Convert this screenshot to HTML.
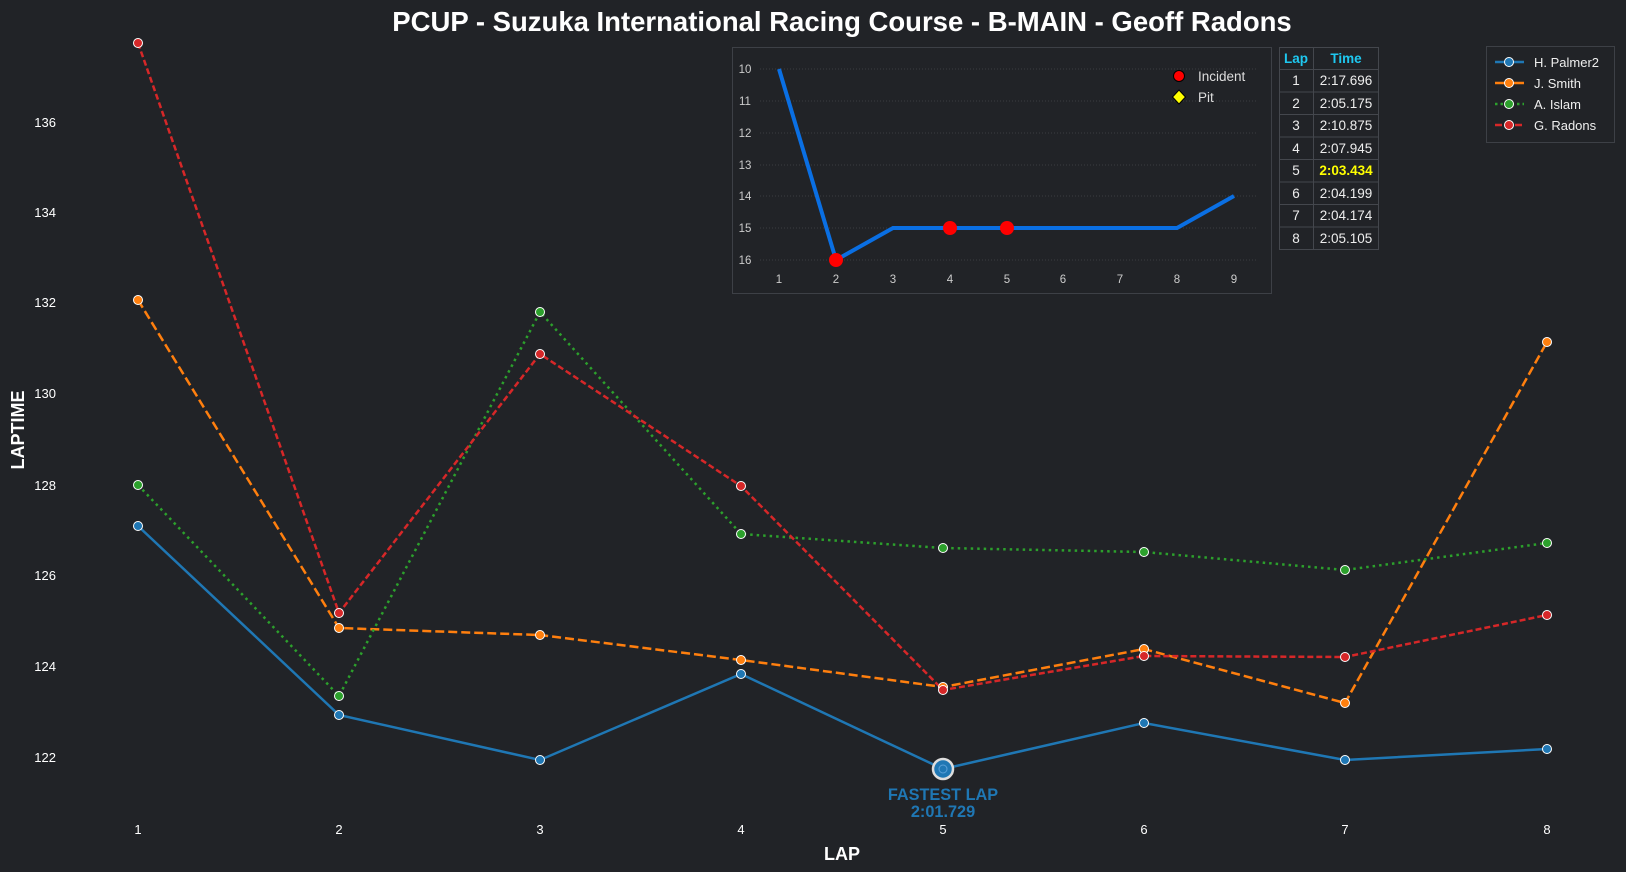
<!DOCTYPE html>
<html><head><meta charset="utf-8"><style>
html,body{margin:0;padding:0;background:#212327;}
svg{display:block;font-family:"Liberation Sans",sans-serif;}
</style></head><body>
<svg width="1626" height="872" viewBox="0 0 1626 872" xmlns="http://www.w3.org/2000/svg">
<rect width="1626" height="872" fill="#212327"/>
<text x="842" y="31" text-anchor="middle" font-size="27.5" font-weight="bold" fill="#fff">PCUP - Suzuka International Racing Course - B-MAIN - Geoff Radons</text>
<g font-size="13" fill="#fff" text-anchor="end">
<text x="56" y="127">136</text><text x="56" y="217">134</text><text x="56" y="307">132</text><text x="56" y="398">130</text><text x="56" y="490">128</text><text x="56" y="580">126</text><text x="56" y="671">124</text><text x="56" y="762">122</text>
</g>
<g font-size="13" fill="#fff" text-anchor="middle">
<text x="138" y="834">1</text><text x="339" y="834">2</text><text x="540" y="834">3</text><text x="741" y="834">4</text><text x="943" y="834">5</text><text x="1144" y="834">6</text><text x="1345" y="834">7</text><text x="1547" y="834">8</text>
</g>
<text x="842" y="860" text-anchor="middle" font-size="18" font-weight="bold" fill="#fff">LAP</text>
<text transform="translate(24,430) rotate(-90)" text-anchor="middle" font-size="18" font-weight="bold" fill="#fff">LAPTIME</text>
<g fill="none" stroke-width="2.5">
<polyline stroke="#1f77b4" points="138,526 339,715 540,760 741,674 943,769 1144,723 1345,760 1547,749"/>
<polyline stroke="#ff7f0e" stroke-dasharray="9,4" points="138,300 339,628 540,635 741,660 943,687 1144,649 1345,703 1547,342"/>
<polyline stroke="#2ca02c" stroke-dasharray="2.5,4" points="138,485 339,696 540,312 741,534 943,548 1144,552 1345,570 1547,543"/>
<polyline stroke="#d62728" stroke-dasharray="6,3" points="138,43 339,613 540,354 741,486 943,690 1144,656 1345,657 1547,615"/>
</g>
<g stroke="#fff" stroke-width="1">
<g fill="#1f77b4"><circle cx="138" cy="526" r="4.5"/><circle cx="339" cy="715" r="4.5"/><circle cx="540" cy="760" r="4.5"/><circle cx="741" cy="674" r="4.5"/><circle cx="1144" cy="723" r="4.5"/><circle cx="1345" cy="760" r="4.5"/><circle cx="1547" cy="749" r="4.5"/></g>
<g fill="#ff7f0e"><circle cx="138" cy="300" r="4.5"/><circle cx="339" cy="628" r="4.5"/><circle cx="540" cy="635" r="4.5"/><circle cx="741" cy="660" r="4.5"/><circle cx="943" cy="687" r="4.5"/><circle cx="1144" cy="649" r="4.5"/><circle cx="1345" cy="703" r="4.5"/><circle cx="1547" cy="342" r="4.5"/></g>
<g fill="#2ca02c"><circle cx="138" cy="485" r="4.5"/><circle cx="339" cy="696" r="4.5"/><circle cx="540" cy="312" r="4.5"/><circle cx="741" cy="534" r="4.5"/><circle cx="943" cy="548" r="4.5"/><circle cx="1144" cy="552" r="4.5"/><circle cx="1345" cy="570" r="4.5"/><circle cx="1547" cy="543" r="4.5"/></g>
<g fill="#d62728"><circle cx="138" cy="43" r="4.5"/><circle cx="339" cy="613" r="4.5"/><circle cx="540" cy="354" r="4.5"/><circle cx="741" cy="486" r="4.5"/><circle cx="943" cy="690" r="4.5"/><circle cx="1144" cy="656" r="4.5"/><circle cx="1345" cy="657" r="4.5"/><circle cx="1547" cy="615" r="4.5"/></g>
</g>
<circle cx="943" cy="769" r="10" fill="#1f77b4" stroke="#ddd" stroke-width="2.5"/>
<circle cx="943" cy="769" r="4" fill="none" stroke="#5aa0d8" stroke-width="1"/>
<text x="943" y="800" text-anchor="middle" font-size="16.3" font-weight="bold" fill="#1f77b4">FASTEST LAP</text>
<text x="943" y="817" text-anchor="middle" font-size="16.3" font-weight="bold" fill="#1f77b4">2:01.729</text>
<!-- inset -->
<rect x="732.5" y="47.5" width="539" height="246" fill="#212327" stroke="#3d4046"/>
<g stroke="#3a3d42" stroke-dasharray="1,2" stroke-width="1">
<line x1="760" x2="1257" y1="69" y2="69"/><line x1="760" x2="1257" y1="101" y2="101"/><line x1="760" x2="1257" y1="133" y2="133"/><line x1="760" x2="1257" y1="165" y2="165"/><line x1="760" x2="1257" y1="196" y2="196"/><line x1="760" x2="1257" y1="228" y2="228"/><line x1="760" x2="1257" y1="260" y2="260"/>
</g>
<g font-size="11.5" fill="#ccc" text-anchor="middle">
<text x="745" y="73">10</text><text x="745" y="105">11</text><text x="745" y="137">12</text><text x="745" y="169">13</text><text x="745" y="200">14</text><text x="745" y="232">15</text><text x="745" y="264">16</text>
<text x="779" y="283">1</text><text x="836" y="283">2</text><text x="893" y="283">3</text><text x="950" y="283">4</text><text x="1007" y="283">5</text><text x="1063" y="283">6</text><text x="1120" y="283">7</text><text x="1177" y="283">8</text><text x="1234" y="283">9</text>
</g>
<polyline fill="none" stroke="#0a6fe3" stroke-width="4" points="779,69 836,260 893,228 950,228 1007,228 1063,228 1120,228 1177,228 1234,196"/>
<g fill="#f00"><circle cx="836" cy="260" r="7"/><circle cx="950" cy="228" r="7"/><circle cx="1007" cy="228" r="7"/></g>
<circle cx="1179" cy="76" r="5.5" fill="#f00" stroke="#000" stroke-width="1"/>
<polygon points="1179,90 1185.5,97 1179,104 1172.5,97" fill="#ff0" stroke="#000" stroke-width="1"/>
<text x="1198" y="81" font-size="13.5" fill="#ddd">Incident</text>
<text x="1198" y="102" font-size="13.5" fill="#ddd">Pit</text>
<!-- table -->
<g stroke="#44474d" stroke-width="1" fill="none">
<rect x="1279.5" y="47.5" width="99" height="202"/>
<line x1="1313.5" x2="1313.5" y1="47" y2="250"/>
<line x1="1279" x2="1379" y1="69.5" y2="69.5"/><line x1="1279" x2="1379" y1="92" y2="92"/><line x1="1279" x2="1379" y1="114.5" y2="114.5"/><line x1="1279" x2="1379" y1="137" y2="137"/><line x1="1279" x2="1379" y1="159.5" y2="159.5"/><line x1="1279" x2="1379" y1="182" y2="182"/><line x1="1279" x2="1379" y1="204.5" y2="204.5"/><line x1="1279" x2="1379" y1="227" y2="227"/>
</g>
<g font-size="13.5" text-anchor="middle" fill="#eee">
<text x="1296" y="63" fill="#1ec8f0" font-weight="bold">Lap</text><text x="1346" y="63" fill="#1ec8f0" font-weight="bold">Time</text>
<text x="1296" y="85">1</text><text x="1346" y="85">2:17.696</text>
<text x="1296" y="108">2</text><text x="1346" y="108">2:05.175</text>
<text x="1296" y="130">3</text><text x="1346" y="130">2:10.875</text>
<text x="1296" y="153">4</text><text x="1346" y="153">2:07.945</text>
<text x="1296" y="175">5</text><text x="1346" y="175" fill="#ffff00" font-weight="bold">2:03.434</text>
<text x="1296" y="198">6</text><text x="1346" y="198">2:04.199</text>
<text x="1296" y="220">7</text><text x="1346" y="220">2:04.174</text>
<text x="1296" y="243">8</text><text x="1346" y="243">2:05.105</text>
</g>
<!-- legend -->
<rect x="1486.5" y="46.5" width="128" height="96" fill="#212327" stroke="#3d4046"/>
<g stroke-width="2.5">
<line x1="1495" x2="1524" y1="62" y2="62" stroke="#1f77b4"/>
<line x1="1495" x2="1524" y1="83" y2="83" stroke="#ff7f0e"/>
<line x1="1495" x2="1524" y1="104" y2="104" stroke="#2ca02c" stroke-dasharray="2.5,3"/>
<line x1="1495" x2="1524" y1="125" y2="125" stroke="#d62728" stroke-dasharray="7,3"/>
</g>
<g stroke="#fff" stroke-width="1">
<circle cx="1509" cy="62" r="4.5" fill="#1f77b4"/><circle cx="1509" cy="83" r="4.5" fill="#ff7f0e"/><circle cx="1509" cy="104" r="4.5" fill="#2ca02c"/><circle cx="1509" cy="125" r="4.5" fill="#d62728"/>
</g>
<g font-size="13" fill="#eee">
<text x="1534" y="67">H. Palmer2</text><text x="1534" y="88">J. Smith</text><text x="1534" y="109">A. Islam</text><text x="1534" y="130">G. Radons</text>
</g>
</svg>
</body></html>
